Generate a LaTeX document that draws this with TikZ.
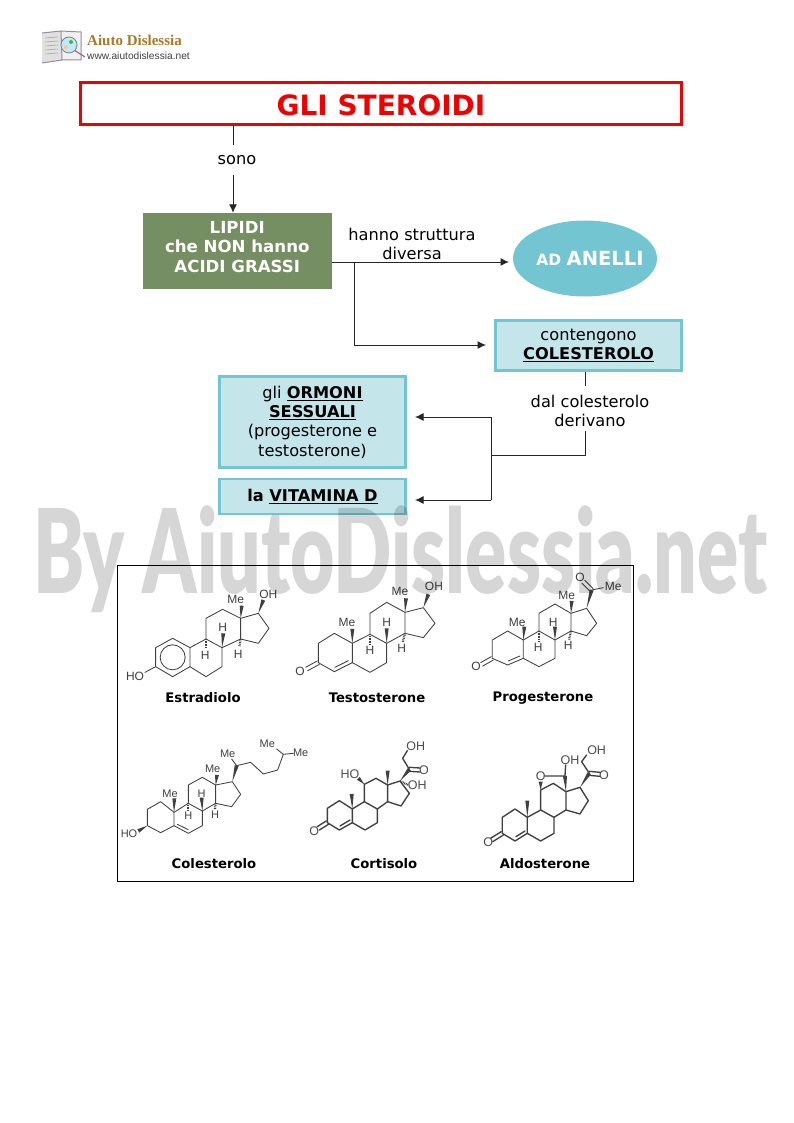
\documentclass[tikz,border=0pt]{standalone}
\usepackage{fontspec}
\usepackage{graphicx}
\setmainfont{DejaVu Sans}
\newfontfamily\chemfont{Liberation Sans}
\newfontfamily\logofont{Liberation Serif}
\newfontfamily\wmfont{Lato Black}
\usetikzlibrary{arrows.meta,calc,shapes.geometric}
\definecolor{wmgray}{HTML}{D6D6D6}
\definecolor{titlered}{HTML}{F00000}
\definecolor{boxgreen}{HTML}{758F62}
\definecolor{boxlight}{HTML}{C4E6EB}
\definecolor{boxedge}{HTML}{73C5D1}
\definecolor{chemline}{HTML}{404040}
\definecolor{logogold}{HTML}{A8792A}
\definecolor{logoedge}{HTML}{9A8A9E}
\newcounter{atomc}
\newcommand{\fs}[1]{\fontsize{#1}{19.3}\selectfont}
\newcommand{\atm}[2]{\stepcounter{atomc}\node[atom] (atom\theatomc) at #1 {#2};}
\newcommand{\wdg}[2]{\fill[chemline] #1 -- ($#2!2pt!90:#1$) -- ($#2!2pt!-90:#1$) -- cycle;}
\newcommand{\hsh}[2]{\draw[chemline,line width=2.2pt,dash pattern=on .8pt off .8pt] #1 -- #2;}
\newcommand{\dbl}[2]{\draw[bond] ($#1!2pt!90:#2$) -- ($#2!2pt!-90:#1$); \draw[bond] ($#1!2pt!-90:#2$) -- ($#2!2pt!90:#1$);}
\tikzset{
  bond/.style={draw=chemline,line width=.85pt,line join=round,line cap=round},
  heavy/.style={draw=black!75,line width=1.35pt,line join=round,line cap=round},
  atom/.style={inner sep=0pt,font=\chemfont\fs{12},text=chemline},
  smallatom/.style={inner sep=0pt,font=\chemfont\fs{11},text=chemline},
  linkline/.style={draw=black!85,line width=1pt},
  linkarrow/.style={linkline,-{Latex[length=8.5pt,width=8pt]}},
  lightbox/.style={draw=boxedge,fill=boxlight,line width=2.8pt,align=center,inner sep=0pt,font=\fs{16.2}},
  lbl/.style={inner sep=0pt,align=center,font=\fs{16.2}},
  molname/.style={inner sep=0pt,font=\bfseries\fs{13.2}},
  zoomA/.style={shift={(120,565)},x=.3333pt,y=-.3333pt},
  zoomB/.style={shift={(285,565)},x=.3333pt,y=-.3333pt},
  zoomC/.style={shift={(120,725)},x=.3333pt,y=-.3333pt},
  zoomD/.style={shift={(300,730)},x=.3333pt,y=-.3333pt}
}
\begin{document}
\begin{tikzpicture}[x=1pt,y=-1pt]
\useasboundingbox (0,0) rectangle (793,1123);
\fill[white] (0,0) rectangle (793,1123);
% logo
\begin{scope}
\fill[black!12] (42,33) -- (61,31) -- (62,60) -- (42,63) -- cycle;
\fill[black!6] (62,31) -- (81,32) -- (81,60) -- (62,60) -- cycle;
\draw[logoedge,line width=1pt] (42,33) -- (61,31) -- (62,60) -- (81,60) -- (81,32) -- (61,31) (62,60) -- (42,63) -- cycle;
\foreach \yy in {38,42,46,50,54}{\draw[black!35,line width=.6pt] (45,\yy) -- (58,\yy-1);}
\draw[line width=1.2pt,logoedge!80!purple] (74,50) -- (85,57);
\fill[cyan!25] (69,45) circle (8);
\fill[orange!45] (66,47) circle (2.2);
\fill[green!40!gray] (71,42) circle (2);
\draw[gray,line width=.8pt] (69,45) circle (8);
\node[inner sep=0pt,anchor=west,text=logogold,font=\logofont\bfseries\fs{15}] (logotitle) at (87,40) {Aiuto Dislessia};
\node[inner sep=0pt,anchor=west,text=black!75,font=\chemfont\fs{10.2}] (logourl) at (87,56) {www.aiutodislessia.net};
\end{scope}
% concept map
\node[draw=titlered,line width=2.8pt,minimum width=601pt,minimum height=42pt,inner sep=0pt,text=titlered,font=\bfseries\fs{28}] (title) at (381,103.5) {\rule{0pt}{24pt}GLI STEROIDI};
\node[lbl] (sono) at (237,160.5) {sono};
\node[fill=boxgreen,text=white,minimum width=188.5pt,minimum height=75.5pt,inner sep=0pt,align=center,font=\bfseries\fs{16.6}] (lipidi) at (237.25,250.75) {LIPIDI\\che NON hanno\\ACIDI GRASSI\\[-11.3pt]\mbox{}};
\node[ellipse,fill=boxedge,minimum width=144pt,minimum height=76pt,inner sep=0pt,text=white,font=\bfseries] (anelli) at (585,258.5) {\makebox[0pt]{\hspace{10pt}\fs{15.5}AD \fs{19.5}ANELLI}};
\node[lbl] (struttura) at (412,244) {hanno struttura\\diversa};
\node[lightbox,minimum width=186pt,minimum height=50pt] (colest) at (588.5,345.5) {contengono\\\textbf{\underline{COLESTEROLO}}};
\node[lbl] (derivano) at (590,411) {dal colesterolo\\derivano};
\node[lightbox,minimum width=186pt,minimum height=91pt] (ormoni) at (312.5,422) {gli \textbf{\underline{ORMONI}}\\\textbf{\underline{SESSUALI}}\\(progesterone e\\testosterone)};
\node[lightbox,minimum width=186pt,minimum height=35pt] (vitamina) at (312.5,496.5) {\textbf{la \underline{VITAMINA D}}};
\coordinate (branch) at (354,262);
\coordinate (join) at (491,455);
\coordinate (colbend) at (585,455);
\coordinate (sonotop) at (233,145);
\coordinate (sonobot) at (233,175);
\coordinate (ormtip) at (415,417);
\coordinate (vittip) at (415,500);
\coordinate (anellitip) at (509,262);
\coordinate (coltip) at (486,345);
\draw[linkline] (title.south -| sonotop) -- (sonotop);
\draw[linkarrow] (sonobot) -- (lipidi.north -| sonobot);
\draw[linkarrow] (lipidi.east |- branch) -- (anellitip);
\draw[linkarrow] (branch) |- (coltip);
\draw[linkline] (585,372) -- (585,386);
\draw[linkline] (585,431) -- (colbend) -- (join);
\draw[linkarrow] (491,417) -- (ormtip);
\draw[linkline] (491,417) -- (491,500);
\draw[linkarrow] (491,500) -- (vittip);
% frame
\node[draw=black,line width=.8pt,minimum width=516pt,minimum height=316pt,inner sep=0pt] (frame) at (375,723) {};
\node[molname] (n1) at (203,698) {Estradiolo};
\node[molname] (n2) at (377,698) {Testosterone};
\node[molname] (n3) at (543,698.5) {Progesterone};
\node[molname] (n4) at (214,864) {Colesterolo};
\node[molname] (n5) at (384,864) {Cortisolo};
\node[molname] (n6) at (545,864) {Aldosterone};
% estradiol
\begin{scope}[zoomA]
\draw[bond] (158,220) -- (210,248) -- (210,305) -- (158,335) -- (107,305) -- (107,248) -- cycle;
\draw[bond] (158,277) circle (12.5pt);
\draw[bond] (107,305) -- (75,322);
\draw[bond] (210,248) -- (258,222) -- (306,248) -- (306,305) -- (258,335) -- (210,305);
\draw[bond] (258,222) -- (258,160) -- (308,133) -- (362,160) -- (362,222) -- (306,248);
\draw[bond] (362,160) -- (415,145) -- (447,190) -- (415,235) -- (362,222);
\wdg{(362,160)}{(365,122)}
\wdg{(415,145)}{(430,105)}
\wdg{(306,248)}{(310,205)}
\hsh{(258,222)}{(258,250)}
\hsh{(362,222)}{(358,245)}
\atm{(45,335)}{HO}
\atm{(347,102)}{Me}
\atm{(445,87)}{OH}
\atm{(308,188)}{H}
\atm{(256,272)}{H}
\atm{(355,267)}{H}
\end{scope}
% testosterone
\begin{scope}[zoomB]
\draw[bond] (202,235) -- (202,293) -- (148,320) -- (100,293) -- (100,235) -- (148,205) -- cycle;
\draw[bond] (190,287) -- (150,307);
\dbl{(100,293)}{(65,312)}
\draw[bond] (202,293) -- (255,322) -- (305,293) -- (305,235) -- (255,208) -- (202,235);
\draw[bond] (255,208) -- (255,145) -- (305,112) -- (360,142) -- (360,205) -- (305,235);
\draw[bond] (360,142) -- (415,128) -- (450,175) -- (415,218) -- (360,205);
\wdg{(202,235)}{(202,192)}
\wdg{(360,142)}{(363,100)}
\wdg{(415,128)}{(430,88)}
\wdg{(305,235)}{(305,190)}
\hsh{(255,208)}{(255,240)}
\hsh{(360,205)}{(353,232)}
\atm{(45,320)}{O}
\atm{(186,173)}{Me}
\atm{(345,80)}{Me}
\atm{(447,65)}{OH}
\atm{(305,172)}{H}
\atm{(255,256)}{H}
\atm{(350,250)}{H}
% progesterone
\draw[bond] (715,225) -- (715,280) -- (668,300) -- (622,280) -- (622,225) -- (668,198) -- cycle;
\draw[bond] (705,273) -- (670,288);
\dbl{(622,280)}{(590,298)}
\draw[bond] (715,280) -- (762,305) -- (810,280) -- (810,225) -- (762,198) -- (715,225);
\draw[bond] (762,198) -- (762,145) -- (810,117) -- (858,145) -- (858,198) -- (810,225);
\draw[bond] (858,145) -- (905,130) -- (935,175) -- (905,212) -- (858,198);
\wdg{(715,225)}{(718,185)}
\wdg{(858,145)}{(860,108)}
\wdg{(905,130)}{(920,75)}
\dbl{(920,75)}{(895,50)}
\draw[bond] (920,75) -- (955,68);
\wdg{(810,225)}{(810,185)}
\hsh{(762,198)}{(762,230)}
\hsh{(858,198)}{(852,225)}
\atm{(573,305)}{O}
\atm{(697,172)}{Me}
\atm{(845,92)}{Me}
\atm{(885,37)}{O}
\atm{(985,65)}{Me}
\atm{(805,172)}{H}
\atm{(760,248)}{H}
\atm{(850,240)}{H}
\end{scope}
% cholesterol
\begin{scope}[zoomC]
\tikzset{atom/.style={smallatom}}
\draw[bond] (122,230) -- (162,262) -- (162,302) -- (122,323) -- (82,302) -- (82,253) -- cycle;
\draw[bond] (162,262) -- (205,235) -- (247,258) -- (247,302) -- (205,325) -- (162,302);
\draw[bond] (172,298) -- (205,314);
\draw[bond] (205,235) -- (205,180) -- (247,157) -- (287,180) -- (287,235) -- (247,258);
\draw[bond] (287,180) -- (337,170) -- (362,208) -- (335,245) -- (287,235);
\wdg{(162,262)}{(163,220)}
\wdg{(287,180)}{(291,150)}
\wdg{(337,170)}{(350,122)}
\draw[bond] (350,122) -- (335,102);
\draw[bond] (350,122) -- (392,112) -- (430,147) -- (473,135) -- (490,88) -- (470,72);
\draw[bond] (490,88) -- (520,85);
\wdg{(82,302)}{(55,318)}
\wdg{(247,258)}{(245,218)}
\hsh{(205,235)}{(205,258)}
\hsh{(287,235)}{(285,252)}
\atm{(27,325)}{HO}
\atm{(150,205)}{Me}
\atm{(278,132)}{Me}
\atm{(323,85)}{Me}
\atm{(442,55)}{Me}
\atm{(542,82)}{Me}
\atm{(245,205)}{H}
\atm{(205,273)}{H}
\atm{(285,268)}{H}
\end{scope}
% cortisol and aldosterone
\begin{scope}[zoomD]
\tikzset{bond/.style={heavy},atom/.style={inner sep=0pt,font=\chemfont\fs{12.5},text=black!70}}
\draw[bond] (157,237) -- (157,278) -- (118,300) -- (82,278) -- (82,235) -- (118,212) -- cycle;
\draw[bond] (150,270) -- (120,288);
\dbl{(82,278)}{(55,295)}
\draw[bond] (157,278) -- (195,300) -- (232,278) -- (232,237) -- (193,215) -- (157,237);
\draw[bond] (193,215) -- (193,163) -- (228,145) -- (263,165) -- (263,215) -- (232,237);
\draw[bond] (263,165) -- (300,153) -- (328,190) -- (303,228) -- (263,215);
\wdg{(157,237)}{(155,192)}
\wdg{(263,165)}{(263,122)}
\wdg{(193,163)}{(175,145)}
\wdg{(300,153)}{(328,118)}
\dbl{(328,118)}{(360,120)}
\draw[bond] (328,118) -- (308,85) -- (322,62);
\hsh{(300,153)}{(325,165)}
\atm{(43,305)}{O}
\atm{(150,132)}{HO}
\atm{(372,120)}{O}
\atm{(347,50)}{OH}
\atm{(352,165)}{OH}
\draw[bond] (682,262) -- (682,310) -- (645,333) -- (607,310) -- (607,262) -- (645,237) -- cycle;
\draw[bond] (675,303) -- (648,320);
\dbl{(607,310)}{(575,330)}
\draw[bond] (682,310) -- (722,333) -- (762,310) -- (762,262) -- (722,240) -- (682,262);
\draw[bond] (722,240) -- (722,180) -- (760,160) -- (798,185) -- (798,240) -- (762,262);
\draw[bond] (798,185) -- (840,172) -- (865,212) -- (840,252) -- (798,240);
\wdg{(682,262)}{(682,212)}
\wdg{(722,180)}{(722,155)}
\draw[bond] (735,138) -- (795,138) -- (797,105);
\wdg{(798,185)}{(795,138)}
\wdg{(840,172)}{(868,130)}
\dbl{(868,130)}{(900,133)}
\draw[bond] (868,130) -- (845,95) -- (860,75);
\atm{(565,338)}{O}
\atm{(722,138)}{O}
\atm{(810,92)}{OH}
\atm{(912,135)}{O}
\atm{(890,62)}{OH}
\end{scope}
% watermark
\begin{scope}[blend mode=multiply]
\node[anchor=north west,inner sep=0pt,text=wmgray] (watermark) at (33,505) {\resizebox*{734pt}{107pt}{\wmfont By AiutoDislessia.net}};
\end{scope}
\end{tikzpicture}
\end{document}
